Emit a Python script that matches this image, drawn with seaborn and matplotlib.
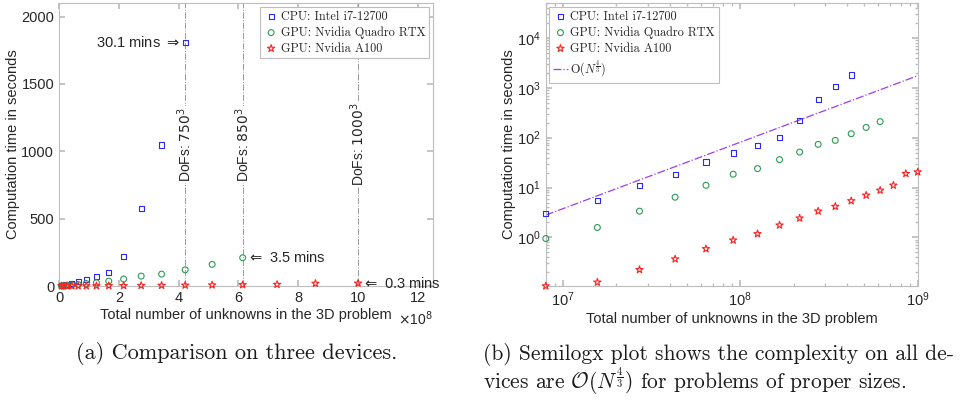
import numpy as np
import pandas as pd
import seaborn as sns
import matplotlib.pyplot as plt
from matplotlib.ticker import FuncFormatter, FixedLocator
import matplotlib.transforms as mtransforms

# Degrees of freedom (grid sizes 200^3 ... 1000^3)
dofs = [8.000e6, 1.5625e7, 2.700e7, 4.2875e7, 6.400e7, 9.1125e7, 1.250e8,
        1.66375e8, 2.160e8, 2.74625e8, 3.430e8, 4.21875e8, 5.120e8,
        6.14125e8, 7.290e8, 8.57375e8, 1.000e9]

# Computation time in seconds
cpu_time = [3.0, 5.6, 11.0, 18.2, 32.6, 49.4, 69.0, 100.0, 219.0, 576.0,
            1047.0, 1806.0]
quadro_time = [0.95, 1.58, 3.36, 6.4, 11.1, 18.5, 24.0, 36.3, 51.5, 73.5,
               88.3, 120.0, 160.7, 210.0]
a100_time = [0.106, 0.126, 0.225, 0.368, 0.59, 0.88, 1.18, 1.76, 2.43, 3.36,
             4.17, 5.4, 7.0, 8.8, 11.1, 19.0, 20.5]

# O(N^{4/3}) reference line end points
ref_x = [8.0e6, 1.0e9]
ref_y = [2.8, 1750.0]

# vertical markers on the linear plot
vline_x = [4.21875e8, 6.14125e8, 1.0e9]
vline_labels = ['DoFs: $750^3$', 'DoFs: $850^3$', 'DoFs: $1000^3$']

series = [
    ('CPU: Intel i7-12700', cpu_time, 's', '#2b2bf0', 14),
    ('GPU: Nvidia Quadro RTX', quadro_time, 'o', '#2e9a55', 18),
    ('GPU: Nvidia A100', a100_time, '*', '#ff2020', 30),
]

sns.set_theme(style='ticks')
plt.rcParams['font.family'] = ['Liberation Sans', 'DejaVu Sans']
plt.rcParams['axes.edgecolor'] = '#bdbdbd'
plt.rcParams['axes.linewidth'] = 0.8
plt.rcParams['text.color'] = '#262626'

frame_gray = '#bdbdbd'
fig = plt.figure(figsize=(9.66, 4.03), dpi=100)
ax1 = fig.add_axes([0.0611, 0.2903, 0.387, 0.702])
ax2 = fig.add_axes([0.565, 0.2903, 0.385, 0.702])


def draw_series(ax):
    for label, times, mk, col, size in series:
        df = pd.DataFrame({'N': dofs[:len(times)], 't': times})
        sns.scatterplot(data=df, x='N', y='t', ax=ax, marker=mk, s=size,
                        facecolors='none', edgecolor=col, linewidth=0.8,
                        label=label, clip_on=False, zorder=3)


def style_axes(ax):
    ax.tick_params(which='both', direction='in', top=True, right=True,
                   color=frame_gray, labelcolor='#262626', labelsize=10.5)
    ax.tick_params(which='major', length=4)
    ax.tick_params(which='minor', length=2)
    ax.set_xlabel('Total number of unknowns in the 3D problem', fontsize=10.5,
                  labelpad=2)
    ax.set_ylabel('Computation time in seconds', fontsize=10.5, labelpad=1)
    for sp in ax.spines.values():
        sp.set_color(frame_gray)


# ---------------- (a) linear plot ----------------
draw_series(ax1)
ax1.set_xlim(0, 12.5e8)
ax1.set_ylim(0, 2100)
ax1.xaxis.set_major_locator(FixedLocator([0, 2e8, 4e8, 6e8, 8e8, 10e8, 12e8]))
ax1.xaxis.set_major_formatter(FuncFormatter(lambda v, p: f'{v / 1e8:g}'))
ax1.set_yticks([0, 500, 1000, 1500, 2000])
style_axes(ax1)
ax1.text(1.0, -0.115, r'$\times$10$^8$', transform=ax1.transAxes,
         ha='right', va='center', fontsize=10)

trans = mtransforms.blended_transform_factory(ax1.transData, ax1.transAxes)
for xv, lab in zip(vline_x, vline_labels):
    ax1.axvline(xv, color='#999999', linestyle='-.', linewidth=0.7, zorder=1)
    ax1.text(xv, 0.5, lab, transform=trans, rotation=90, ha='center',
             va='center', fontsize=10,
             bbox=dict(facecolor='white', edgecolor='none', pad=0.5), zorder=2)

ax1.annotate('30.1 mins $\\Rightarrow$', xy=(dofs[11], cpu_time[-1]),
             xytext=(-4, 0), textcoords='offset points', ha='right',
             va='center', fontsize=10.5)
ax1.annotate('$\\Leftarrow$ 3.5 mins', xy=(dofs[13], quadro_time[-1]),
             xytext=(3, 0), textcoords='offset points', ha='left',
             va='center', fontsize=10.5)
ax1.annotate('$\\Leftarrow$ 0.3 mins', xy=(dofs[16], a100_time[-1]),
             xytext=(3, 0), textcoords='offset points', ha='left',
             va='center', fontsize=10.5)

leg_kw = dict(prop={'family': 'cmr10', 'size': 8.8}, fancybox=False,
              edgecolor=frame_gray, framealpha=1, borderaxespad=0.3,
              handletextpad=0.2, borderpad=0.3, labelspacing=0.3,
              handlelength=1.2)
leg1 = ax1.legend(loc='upper right', **leg_kw)

# ---------------- (b) log-log plot ----------------
draw_series(ax2)
sns.lineplot(x=ref_x, y=ref_y, ax=ax2, color='#9b3df0', linestyle='-.',
             linewidth=0.9, label='O($N^{\\frac{4}{3}}$)', zorder=2)
ax2.set_xscale('log')
ax2.set_yscale('log')
ax2.set_xlim(8.0e6, 1.0e9)
ax2.set_ylim(0.106, 5e4)
style_axes(ax2)

leg2 = ax2.legend(loc='upper left', **leg_kw)
for leg in (leg1, leg2):
    leg.get_frame().set_linewidth(0.8)
    for t in leg.get_texts():
        t.set_math_fontfamily('cm')

# ---------------- captions ----------------
fig.text(0.245, 0.124, '(a) Comparison on three devices.', ha='center',
         va='center', fontsize=16, family='cmr10', color='#1a1a1a')
fig.text(0.5, 0.121, '(b) Semilogx plot shows the complexity on all de-',
         ha='left', va='center', fontsize=15.5, family='cmr10',
         color='#1a1a1a')
fig.text(0.5, 0.052,
         'vices are $\\mathcal{O}(N^{\\frac{4}{3}})$ for problems of proper sizes.',
         ha='left', va='center', fontsize=15.5, family='cmr10',
         math_fontfamily='cm', color='#1a1a1a')

fig.savefig('out.png', dpi=100)
